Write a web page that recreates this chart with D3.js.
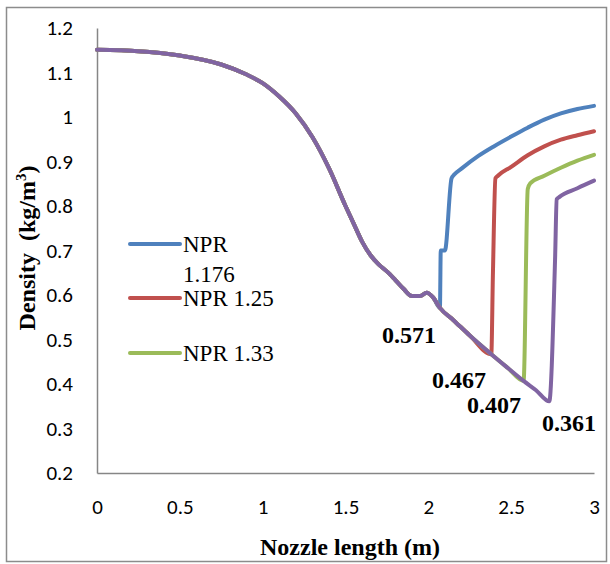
<!DOCTYPE html>
<html>
<head>
<meta charset="utf-8">
<script src="https://cdn.jsdelivr.net/npm/d3@7"></script>
<style>
  body { margin: 0; background: #fff; }
</style>
</head>
<body>
<script>
// upstream part, common to every NPR
var sharedX = [0, 0.25, 0.5, 0.75, 0.9, 1.0, 1.1, 1.2, 1.3, 1.4, 1.5, 1.55, 1.6, 1.65, 1.7, 1.75, 1.8, 1.85, 1.9, 1.95, 1.99, 2.03, 2.07, 2.15, 2.25, 2.38, 2.48, 2.575, 2.65, 2.73];
var sharedY = [1.151, 1.148, 1.138, 1.118, 1.096, 1.076, 1.046, 1.008, 0.955, 0.885, 0.800, 0.760, 0.720, 0.690, 0.669, 0.653, 0.634, 0.614, 0.598, 0.598, 0.605, 0.594, 0.571, 0.544, 0.509, 0.467, 0.436, 0.407, 0.386, 0.361];

// after the shock
var blueX = [2.075, 2.1, 2.14, 2.155, 2.2, 2.3, 2.4, 2.5, 2.6, 2.7, 2.8, 2.9, 3.0];
var blueY = [0.70, 0.70, 0.862, 0.87, 0.884, 0.912, 0.935, 0.956, 0.976, 0.994, 1.008, 1.018, 1.025];
var redX = [2.39, 2.405, 2.42, 2.5, 2.6, 2.7, 2.8, 2.9, 3.0];
var redY = [0.65, 0.862, 0.868, 0.888, 0.914, 0.934, 0.949, 0.959, 0.968];
var greenX = [2.6, 2.615, 2.7, 2.8, 2.9, 3.0];
var greenY = [0.838, 0.851, 0.868, 0.886, 0.902, 0.915];
var purpleX = [2.765, 2.775, 2.79, 2.9, 3.0];
var purpleY = [0.68, 0.815, 0.82, 0.84, 0.857];

var shockX = [2.07, 2.38, 2.575, 2.73];
var shockLabels = ["0.571", "0.467", "0.407", "0.361"];
var seriesNames = ["NPR 1.176", "NPR 1.25", "NPR 1.33", "NPR 1.42"];
var colors = ["#4F81BD", "#C0504D", "#9BBB59", "#8064A2"];

var xTicks = [0, 0.5, 1, 1.5, 2, 2.5, 3];
var yTicks = [0.2, 0.3, 0.4, 0.5, 0.6, 0.7, 0.8, 0.9, 1, 1.1, 1.2];

var branchX = [blueX, redX, greenX, purpleX];
var branchY = [blueY, redY, greenY, purpleY];

var series = shockX.map(function (s, i) {
  var pts = [];
  sharedX.forEach(function (x, j) { if (x <= s) pts.push([x, sharedY[j]]); });
  branchX[i].forEach(function (x, j) { pts.push([x, branchY[i][j]]); });
  return { name: seriesNames[i], color: colors[i], points: pts };
});

var svg = d3.select("body").append("svg")
  .attr("width", 610)
  .attr("height", 564);

svg.append("rect")
  .attr("x", 6.5).attr("y", 7.5)
  .attr("width", 600).attr("height", 554)
  .attr("fill", "#fff")
  .attr("stroke", "#8c8c8c")
  .attr("stroke-width", 1.5);

var x = d3.scaleLinear().domain([0, 3]).range([97, 594]);
var y = d3.scaleLinear().domain([0.2, 1.2]).range([473, 28]);

var tickFont = "Carlito, Lato, 'Open Sans', sans-serif";
var serif = "'Liberation Serif', 'Times New Roman', serif";

// y axis
var yAxis = svg.append("g")
  .attr("transform", "translate(97,0)")
  .call(d3.axisLeft(y).tickValues(yTicks).tickSize(0).tickPadding(24)
    .tickFormat(d3.format("")));
yAxis.select(".domain").attr("stroke", "#868686").attr("stroke-width", 1.5);
yAxis.selectAll("text")
  .attr("font-family", tickFont)
  .attr("font-size", 21)
  .attr("fill", "#000");

// x axis
var xAxis = svg.append("g")
  .attr("transform", "translate(0,473)")
  .call(d3.axisBottom(x).tickValues(xTicks).tickSize(0).tickPadding(26)
    .tickFormat(d3.format("")));
xAxis.select(".domain").attr("stroke", "#868686").attr("stroke-width", 1.5);
xAxis.selectAll("text")
  .attr("font-family", tickFont)
  .attr("font-size", 21)
  .attr("fill", "#000");

var line = d3.line()
  .x(function (d) { return x(d[0]); })
  .y(function (d) { return y(d[1]); })
  .curve(d3.curveMonotoneX);

svg.selectAll(".series")
  .data(series)
  .enter().append("path")
  .attr("class", "series")
  .attr("d", function (d) { return line(d.points); })
  .attr("fill", "none")
  .attr("stroke", function (d) { return d.color; })
  .attr("stroke-width", 4)
  .attr("stroke-linecap", "round")
  .attr("stroke-linejoin", "round");

// shock-foot values
var labelPos = [[382, 343], [432, 388], [467, 413], [542, 431]];
svg.selectAll(".shock")
  .data(shockLabels)
  .enter().append("text")
  .attr("class", "shock")
  .attr("x", function (d, i) { return labelPos[i][0]; })
  .attr("y", function (d, i) { return labelPos[i][1]; })
  .attr("font-family", serif)
  .attr("font-weight", "bold")
  .attr("font-size", 24)
  .text(function (d) { return d; });

// legend (only three entries fit in the box)
var legendY = [244, 298, 353];
var legend = svg.selectAll(".legend")
  .data(series.slice(0, 3))
  .enter().append("g")
  .attr("class", "legend")
  .attr("transform", function (d, i) { return "translate(130," + legendY[i] + ")"; });

legend.append("line")
  .attr("x1", 0).attr("x2", 50)
  .attr("stroke", function (d) { return d.color; })
  .attr("stroke-width", 4)
  .attr("stroke-linecap", "round");

legend.append("text")
  .attr("x", 53)
  .attr("y", 8)
  .attr("font-family", serif)
  .attr("font-size", 23)
  .each(function (d, i) {
    var t = d3.select(this);
    if (i === 0) {
      var parts = d.name.split(" ");
      t.append("tspan").attr("x", 53).text(parts[0]);
      t.append("tspan").attr("x", 53).attr("dy", 30).text(parts[1]);
    } else {
      t.text(d.name);
    }
  });

// axis titles
svg.append("text")
  .attr("x", 350)
  .attr("y", 555)
  .attr("text-anchor", "middle")
  .attr("font-family", serif)
  .attr("font-weight", "bold")
  .attr("font-size", 24)
  .text("Nozzle length (m)");

var yTitle = svg.append("text")
  .attr("transform", "translate(35,248) rotate(-90)")
  .attr("text-anchor", "middle")
  .attr("font-family", serif)
  .attr("font-weight", "bold")
  .attr("font-size", 24)
  .attr("xml:space", "preserve");
yTitle.append("tspan").text("Density  (kg/m");
yTitle.append("tspan").attr("dy", -9).attr("font-size", 15).text("3");
yTitle.append("tspan").attr("dy", 9).text(")");
</script>
</body>
</html>
